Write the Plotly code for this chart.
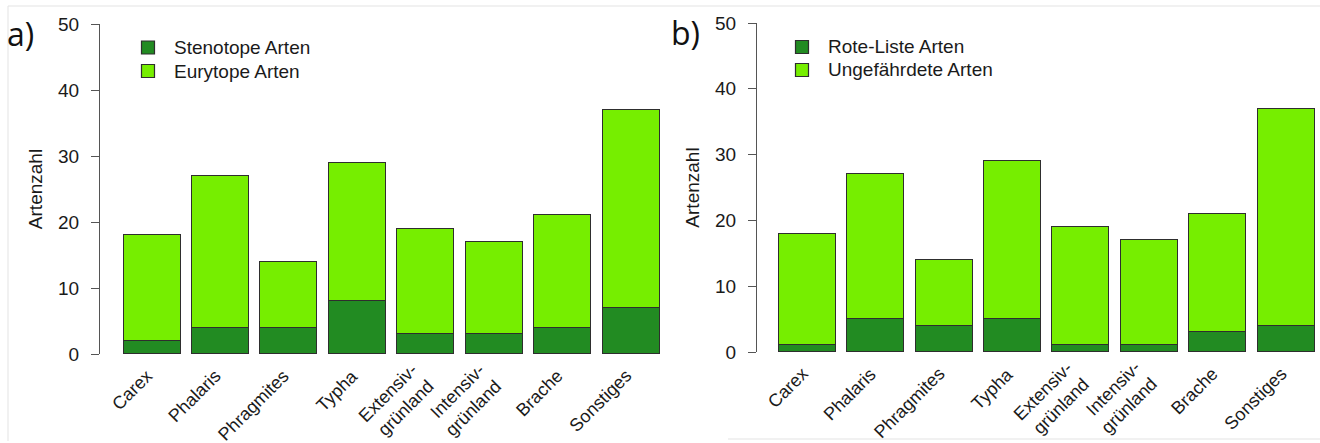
import plotly.graph_objects as go

# Habitat categories shown along both panels
categories = ["Carex", "Phalaris", "Phragmites", "Typha",
              "Extensiv-<br>grünland", "Intensiv-<br>grünland", "Brache", "Sonstiges"]

# Panel a: habitat specialists vs. generalists
stenotope = [2, 4, 4, 8, 3, 3, 4, 7]
eurytope = [16, 23, 10, 21, 16, 14, 17, 30]

# Panel b: red-list vs. non-threatened species
rote_liste = [1, 5, 4, 5, 1, 1, 3, 4]
ungefaehrdet = [17, 22, 10, 24, 18, 16, 18, 33]

y_ticks = [0, 10, 20, 30, 40, 50]

W, H = 1320, 443
DARK = "#228B22"
LIGHT = "#76EE00"
EDGE = "#2e2e2e"
TEXT = "#1a1a1a"
FONT = "Liberation Sans, Arial, Helvetica, sans-serif"
FS = 19


def px(x):
    return x / W


def py(y):
    return 1 - y / H


fig = go.Figure()


def add_pair(bottom, top, names, xa, ya):
    for vals, name, col in ((bottom, names[0], DARK), (top, names[1], LIGHT)):
        fig.add_trace(go.Bar(
            x=categories, y=vals, name=name, width=0.833, showlegend=False,
            marker=dict(color=col, line=dict(color=EDGE, width=1.2)),
            xaxis=xa, yaxis=ya,
        ))


names_a = ["Stenotope Arten", "Eurytope Arten"]
names_b = ["Rote-Liste Arten", "Ungefährdete Arten"]
add_pair(stenotope, eurytope, names_a, "x", "y")
add_pair(rote_liste, ungefaehrdet, names_b, "x2", "y2")

xcommon = dict(type="category", showline=False, showgrid=False, zeroline=False,
               automargin=False, ticks="", showticklabels=False)
ycommon = dict(range=[0, 50], tickvals=y_ticks, showline=True, linecolor="#555555",
               linewidth=1.3, ticks="outside", ticklen=8, tickwidth=1.3, tickcolor="#555555",
               showgrid=False, zeroline=False, automargin=False, ticklabelstandoff=8,
               tickfont=dict(size=FS, color=TEXT, family=FONT),
               title=dict(text="Artenzahl", font=dict(size=FS, color=TEXT, family=FONT),
                          standoff=10))

fig.update_layout(
    width=W, height=H, autosize=False,
    margin=dict(l=0, r=0, t=0, b=0, autoexpand=False),
    paper_bgcolor="white", plot_bgcolor="white",
    barmode="stack", bargap=0,
    font=dict(family=FONT, color=TEXT),
    xaxis=dict(xcommon, domain=[px(100), px(672)], range=[-0.760, 7.599], anchor="y"),
    yaxis=dict(ycommon, domain=[py(354), py(24)], anchor="x"),
    xaxis2=dict(xcommon, domain=[px(757), 1.0], range=[-0.739, 7.497], anchor="y2"),
    yaxis2=dict(ycommon, domain=[py(352), py(23)], anchor="x2"),
)

# Slanted category labels under each panel
for xref, base in (("x", 354), ("x2", 352)):
    for i, cat in enumerate(categories):
        two_lines = "<br>" in cat
        fig.add_annotation(
            text=cat, x=i, xref=xref, y=py(base + (3 if two_lines else 9)), yref="paper",
            xanchor="right", yanchor="top", align="right", textangle=-45,
            xshift=14 if two_lines else 7, showarrow=False,
            font=dict(size=18, color=TEXT, family=FONT),
        )


# Legend keys: filled squares with labels
def add_key(cx, cy, color, label):
    s = 6.5
    fig.add_shape(type="rect", xref="paper", yref="paper",
                  x0=px(cx - s), x1=px(cx + s), y0=py(cy + s), y1=py(cy - s),
                  fillcolor=color, line=dict(color=EDGE, width=1.2))
    fig.add_annotation(text=label, x=px(cx + 24), y=py(cy), xref="paper", yref="paper",
                       xanchor="left", yanchor="middle", showarrow=False,
                       font=dict(size=FS, color=TEXT, family=FONT))


add_key(148, 47.5, DARK, names_a[0])
add_key(148, 71, LIGHT, names_a[1])
add_key(802, 47, DARK, names_b[0])
add_key(802, 70, LIGHT, names_b[1])

# Panel letters
letter_font = dict(size=32, family="Open Sans, Noto Sans, sans-serif", color="#111111")
fig.add_annotation(text="a)", x=px(5), y=py(33), xref="paper", yref="paper",
                   xanchor="left", yanchor="middle", showarrow=False, font=letter_font)
fig.add_annotation(text="b)", x=px(669), y=py(32), xref="paper", yref="paper",
                   xanchor="left", yanchor="middle", showarrow=False, font=letter_font)

# Thin frame lines around the figure
frame = dict(type="line", xref="paper", yref="paper", line=dict(color="#e3e3e3", width=1))
fig.add_shape(frame, x0=px(8), x1=1.0, y0=py(6), y1=py(6))
fig.add_shape(frame, x0=px(8), x1=px(8), y0=py(6), y1=py(441))
fig.add_shape(frame, x0=px(728), x1=1.0, y0=py(439), y1=py(439))

fig.write_html("out.html")
